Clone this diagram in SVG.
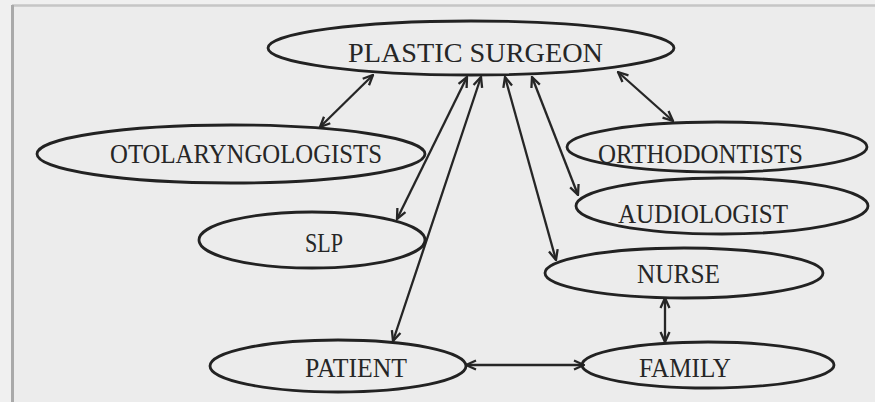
<svg xmlns="http://www.w3.org/2000/svg" width="875" height="402" viewBox="0 0 875 402">
<style>
.node ellipse{fill:none;stroke:#222222;stroke-width:2.8}
.node text{font-family:"Liberation Serif","Times New Roman",serif;font-size:27px;fill:#262626}
.conn line{stroke:#262626;stroke-width:2.3;marker-start:url(#ah);marker-end:url(#ah)}
</style>
<defs>
<marker id="ah" viewBox="0 0 12 12" refX="11" refY="6" markerWidth="12" markerHeight="12" markerUnits="userSpaceOnUse" orient="auto-start-reverse">
<path d="M1,1.5 L11,6 L1,10.5" fill="none" stroke="#262626" stroke-width="2.3" stroke-linejoin="miter"/>
</marker>
</defs>
<rect width="875" height="402" fill="#f0f0f0"/>
<rect x="13" y="6" width="862" height="396" fill="#ececec"/>
<line x1="12" y1="5.5" x2="875" y2="5.5" stroke="#c6c6c6" stroke-width="2.5"/>
<line x1="12.5" y1="5" x2="12.5" y2="402" stroke="#a9a9a9" stroke-width="3"/>

<g class="conn" id="connectors">
<line x1="373" y1="75" x2="320" y2="127"/>
<line x1="467" y1="77" x2="397" y2="219"/>
<line x1="481" y1="77" x2="393" y2="341"/>
<line x1="505" y1="77" x2="556" y2="260"/>
<line x1="532" y1="77" x2="578" y2="195"/>
<line x1="618" y1="72" x2="673" y2="121"/>
<line x1="665" y1="298" x2="665" y2="342"/>
<line x1="466" y1="365" x2="584" y2="365"/>
</g>

<g class="node" id="plastic-surgeon">
<ellipse cx="471" cy="48" rx="203" ry="27"/>
<text x="348" y="61.5" font-size="27.5" textLength="255" lengthAdjust="spacingAndGlyphs">PLASTIC SURGEON</text>
</g>
<g class="node" id="otolaryngologists">
<ellipse cx="231" cy="154" rx="194" ry="29"/>
<text x="110" y="163" textLength="272" lengthAdjust="spacingAndGlyphs">OTOLARYNGOLOGISTS</text>
</g>
<g class="node" id="orthodontists">
<ellipse cx="717" cy="147" rx="150" ry="25"/>
<text x="598" y="163" textLength="205" lengthAdjust="spacingAndGlyphs">ORTHODONTISTS</text>
</g>
<g class="node" id="audiologist">
<ellipse cx="722" cy="206" rx="146" ry="28"/>
<text x="618" y="223" textLength="170" lengthAdjust="spacingAndGlyphs">AUDIOLOGIST</text>
</g>
<g class="node" id="slp">
<ellipse cx="312" cy="240" rx="113" ry="28"/>
<text x="305" y="252" textLength="38" lengthAdjust="spacingAndGlyphs">SLP</text>
</g>
<g class="node" id="nurse">
<ellipse cx="684" cy="273" rx="139" ry="25"/>
<text x="637" y="283" textLength="83" lengthAdjust="spacingAndGlyphs">NURSE</text>
</g>
<g class="node" id="patient">
<ellipse cx="338" cy="366" rx="128" ry="26"/>
<text x="305" y="377" textLength="102" lengthAdjust="spacingAndGlyphs">PATIENT</text>
</g>
<g class="node" id="family">
<ellipse cx="708" cy="365" rx="126" ry="23"/>
<text x="639" y="377" textLength="92" lengthAdjust="spacingAndGlyphs">FAMILY</text>
</g>
</svg>
